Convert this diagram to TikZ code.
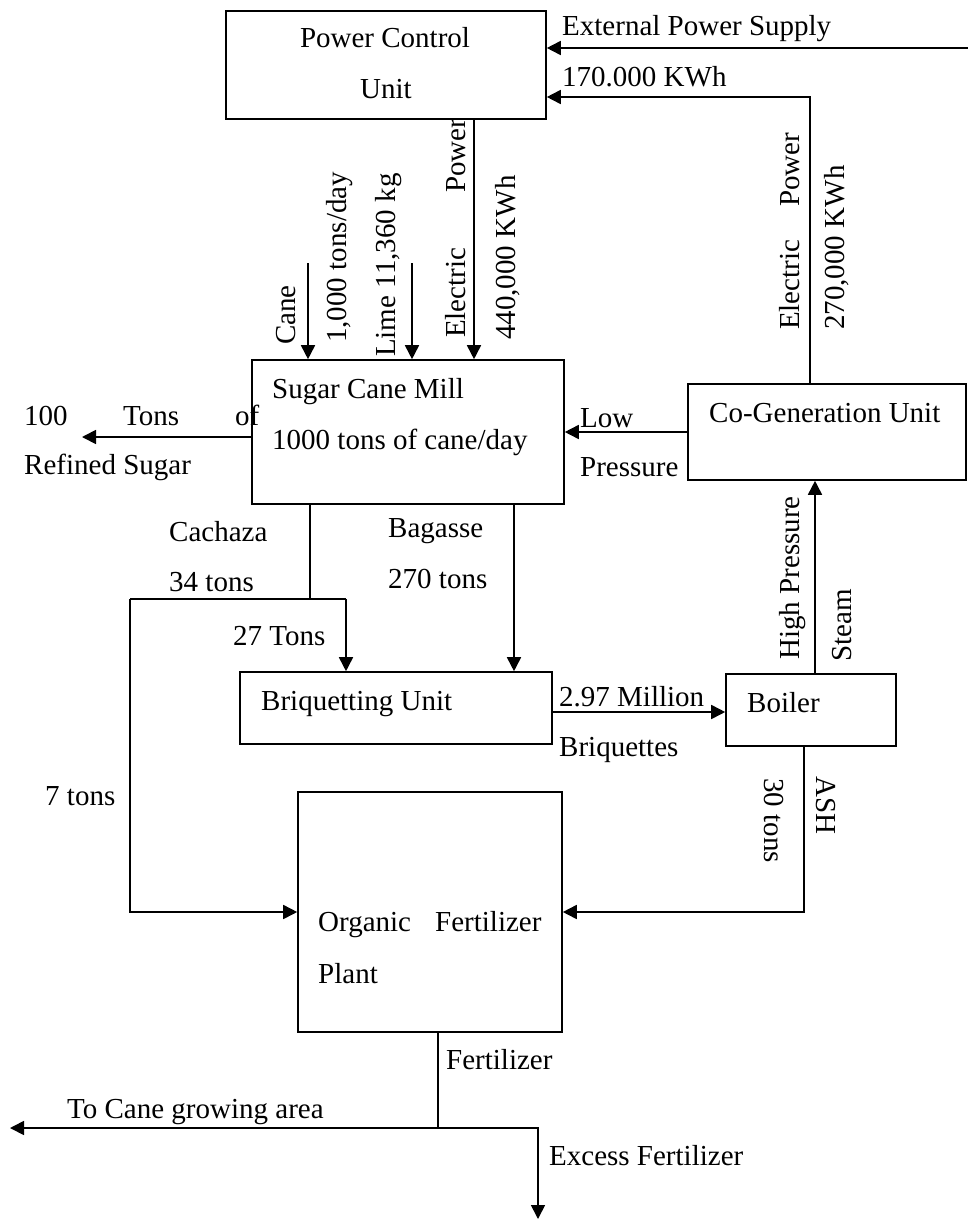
\documentclass[tikz,border=0pt]{standalone}
\usepackage{fontspec}
\setmainfont{Liberation Serif}
\usetikzlibrary{arrows.meta}
\begin{document}
\begin{tikzpicture}[x=1pt,y=-1pt,
  every node/.style={font=\fontsize{29}{35}\selectfont},
  box/.style={draw, line width=1.6pt, inner sep=0, rectangle},
  lbl/.style={inner sep=0, anchor=base west},
  rup/.style={inner sep=0, rotate=90, anchor=west},
  rdn/.style={inner sep=0, rotate=-90, anchor=west},
  conn/.style={line width=1.7pt},
  arr/.style={line width=1.7pt, -{Triangle[length=14pt,width=14pt]}}
]
\useasboundingbox (0,0) rectangle (968,1220);

% boxes
\node[box, minimum width=320pt, minimum height=108pt] (pcu) at (386,65) {};
\node[box, minimum width=312pt, minimum height=144pt] (mill) at (408,432) {};
\node[box, minimum width=278pt, minimum height=96pt] (cogen) at (827,432) {};
\node[box, minimum width=312pt, minimum height=72pt] (briq) at (396,708) {};
\node[box, minimum width=170pt, minimum height=72pt] (boiler) at (811,710) {};
\node[box, minimum width=264pt, minimum height=240pt] (org) at (430,912) {};

% box texts
\node[lbl, anchor=base] (pcuT1) at (385,48) {Power Control};
\node[lbl, anchor=base] (pcuT2) at (386,99) {Unit};
\node[lbl] (millT1) at (272,398) {Sugar Cane Mill};
\node[lbl] (millT2) at (272,449) {1000 tons of cane/day};
\node[lbl] (cgT) at (709,422) {Co-Generation Unit};
\node[lbl] (brT) at (261,710) {Briquetting Unit};
\node[lbl] (boT) at (747,712) {Boiler};
\node[lbl] (of1) at (318,931) {Organic};
\node[lbl] (of2) at (435,931) {Fertilizer};
\node[lbl] (of3) at (318,983) {Plant};

% coordinates
\coordinate (extS) at (968,48);
\coordinate (k170) at (810,97);
\coordinate (ep) at (474,0);
\coordinate (caneS) at (308,263);
\coordinate (limeS) at (412,263);
\coordinate (sugE) at (82,437);
\coordinate (cj) at (310,599);
\coordinate (cl) at (130,599);
\coordinate (cr) at (346,599);
\coordinate (bg) at (514,0);
\coordinate (bm) at (0,712);
\coordinate (st) at (815,0);
\coordinate (ash) at (804,912);
\coordinate (fj) at (438,1128);
\coordinate (caneArea) at (10,1128);
\coordinate (exc) at (538,1219);

% connectors
\draw[arr] (extS) -- (extS -| pcu.east);
\draw[arr] (cogen.north -| k170) -- (k170) -- (k170 -| pcu.east);
\draw[arr] (pcu.south -| ep) -- (mill.north -| ep);
\draw[arr] (caneS) -- (mill.north -| caneS);
\draw[arr] (limeS) -- (mill.north -| limeS);
\draw[arr] (mill.west |- sugE) -- (sugE);
\draw[arr] (cogen.west) -- (mill.east);
\draw[conn] (mill.south -| cj) -- (cj);
\draw[conn] (cl) -- (cr);
\draw[arr] (cr) -- (briq.north -| cr);
\draw[arr] (cl) |- (org.west);
\draw[arr] (mill.south -| bg) -- (briq.north -| bg);
\draw[arr] (briq.east |- bm) -- (boiler.west |- bm);
\draw[arr] (boiler.north -| st) -- (cogen.south -| st);
\draw[arr] (boiler.south -| ash) |- (org.east);
\draw[conn] (org.south -| fj) -- (fj);
\draw[arr] (fj) -- (caneArea);
\draw[arr] (fj) -| (exc);

% horizontal labels
\node[lbl] (extT) at (562,36) {External Power Supply};
\node[lbl] (k170T) at (562,87) {170.000 KWh};
\node[lbl] (s1) at (24,425) {100};
\node[lbl] (s2) at (123,425) {Tons};
\node[lbl] (s3) at (235,425) {of};
\node[lbl] (s4) at (24,474) {Refined Sugar};
\node[lbl] (lp1) at (580,427) {Low};
\node[lbl] (lp2) at (580,476) {Pressure};
\node[lbl] (ca1) at (169,541) {Cachaza};
\node[lbl] (ca2) at (169,591) {34 tons};
\node[lbl] (ca3) at (233,645) {27 Tons};
\node[lbl] (bg1) at (388,537) {Bagasse};
\node[lbl] (bg2) at (388,588) {270 tons};
\node[lbl] (m1) at (559,706) {2.97 Million};
\node[lbl] (m2) at (559,756) {Briquettes};
\node[lbl] (t7) at (45,805) {7 tons};
\node[lbl] (fe) at (446,1069) {Fertilizer};
\node[lbl] (tc) at (67,1118) {To Cane growing area};
\node[lbl] (ex) at (549,1165) {Excess Fertilizer};

% rotated labels
\node[rup] (cane) at (286,345) {Cane};
\node[rup] (cane2) at (340,343) {1,000 tons/day};
\node[rup] (lime) at (389,357) {Lime 11,360 kg};
\node[rup] (el1) at (456,338) {Electric};
\node[rup] (pw1) at (456,193) {Power};
\node[rup] (kw440) at (508,340) {440,000 KWh};
\node[rup] (el2) at (790,330) {Electric};
\node[rup] (pw2) at (790,207) {Power};
\node[rup] (kw270) at (837,330) {270,000 KWh};
\node[rup] (hp) at (793,660) {High Pressure};
\node[rup] (steam) at (842,662) {Steam};
\node[rdn] (t30) at (774,778) {30 tons};
\node[rdn] (ashT) at (826,776) {ASH};
\end{tikzpicture}
\end{document}
